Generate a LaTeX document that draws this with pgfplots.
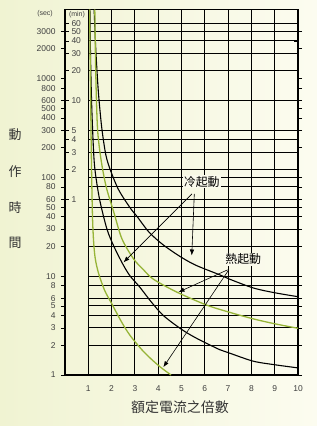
\documentclass[border=0pt]{standalone}
\usepackage{pgfplots}
\pgfplotsset{compat=1.18}
\usetikzlibrary{arrows.meta}
\usepackage{fontspec}
\setmainfont{Liberation Sans}
\newfontfamily\cjk{Noto Sans CJK TC}
\definecolor{curvegreen}{RGB}{150,180,55}
\definecolor{bgl}{RGB}{240,243,210}
\definecolor{bgr}{RGB}{252,252,240}
\definecolor{lblbg}{RGB}{250,250,236}
\begin{document}
\begin{tikzpicture}
\shade[left color=bgl, right color=bgr] (0bp,0bp) rectangle (317bp,426bp);
\begin{axis}[
  at={(65bp,51bp)}, anchor=south west,
  width=233bp, height=365.5bp, scale only axis,
  xmin=0, xmax=10, ymin=1, ymax=5000, ymode=log,
  /pgf/number format/assume math mode=true,
  axis line style={line width=1.1pt},
  clip=true,
  xtick={1,2,3,4,5,6,7,8,9,10},
  xticklabels={1,2,3,4,5,6,7,8,9,10},
  xmajorgrids, grid style={black, line width=1pt},
  xtick style={draw=none},
  xticklabel style={font=\fontsize{8.5}{9}\selectfont, yshift=-3bp, text=black!75},
  ytick={1,2,3,4,5,6,8,10,20,30,40,50,60,80,100,200,300,400,500,600,800,1000,2000,3000},
  yticklabels={1,2,3,4,5,6,8,10,20,30,40,50,60,80,100,200,300,400,500,600,800,1000,2000,3000},
  ytick style={black, line width=0.7pt},
  tick align=outside,
  major tick length=4bp,
  yticklabel style={font=\fontsize{8.5}{9}\selectfont, text=black!75, xshift=-2bp},
  extra y ticks={60,120,180,240,300,600,1200,1800,2400,3000,3600},
  extra y tick labels={1,2,3,4,5,10,20,30,40,50,60},
  extra y tick style={tick align=inside, major tick length=4bp,
     yticklabel style={anchor=west, xshift=5bp, font=\fontsize{8.5}{9}\selectfont, text=black!75}},
]
\pgfplotsinvokeforeach{2,3,4,5,6,8,10,20,30,40,50,60,80,100,120,180,240,300,600,1200,1800,2400,3000,3600}{
  \draw[black, line width=1pt] (axis cs:1,#1) -- (axis cs:10,#1);
}
% cold start (black), upper
\addplot[black, line width=1.1pt, smooth] coordinates {
(1.25,5000) (1.32,2000) (1.42,800) (1.50,480) (1.59,300) (1.75,170) (1.94,120)
(2.3,75) (2.8,49) (3.1,40) (3.6,28) (4.22,20.7) (5,15.5) (5.65,12.8) (6.65,10.3)
(7.08,9.3) (8.08,7.6) (9,6.8) (10,6.2)};
% cold start (black), lower
\addplot[black, line width=1.1pt, smooth] coordinates {
(1.07,5000) (1.10,1500) (1.15,500) (1.23,177) (1.30,112) (1.49,59) (1.8,30) (2.1,20)
(2.5,13) (2.8,10) (3.2,7.8) (3.7,5.5) (4.22,4.0) (5,2.9) (5.65,2.35) (6.65,1.8)
(7.08,1.66) (8.08,1.38) (9,1.27) (10,1.18)};
% hot start (green), upper
\addplot[curvegreen, line width=1.3pt, smooth] coordinates {
(1.28,5000) (1.31,1500) (1.35,600) (1.40,300) (1.50,180) (1.64,112) (1.8,75) (2.1,44)
(2.44,24) (2.94,15) (3.37,11.6) (3.8,9.3) (4.8,6.9) (6.08,5.1) (7.08,4.3) (8.08,3.7)
(9,3.3) (10,2.97)};
% hot start (green), lower
\addplot[curvegreen, line width=1.3pt, smooth] coordinates {
(1.06,5000) (1.08,1500) (1.11,400) (1.14,120) (1.18,40) (1.23,22) (1.30,15) (1.44,10.7)
(1.7,7.2) (2,5.3) (2.44,3.4) (2.8,2.5) (3.3,1.8) (3.7,1.45) (4.1,1.2) (4.55,1.0)};
% annotations
\node[fill=lblbg, inner sep=1pt, font=\cjk\fontsize{12}{12}\selectfont] at (axis cs:5.87,90) {冷起動};
\draw[-{Latex[length=6pt,width=4.5pt]}, line width=0.6pt] (axis cs:5.45,68) -- (axis cs:2.51,13.8);
\draw[-{Latex[length=6pt,width=4.5pt]}, line width=0.6pt] (axis cs:5.55,68) -- (axis cs:5.44,16.2);
\node[fill=lblbg, inner sep=1pt, font=\cjk\fontsize{12}{12}\selectfont] at (axis cs:7.65,14.8) {熱起動};
\draw[-{Latex[length=6pt,width=4.5pt]}, line width=0.6pt] (axis cs:6.98,11.6) -- (axis cs:4.87,6.9);
\draw[-{Latex[length=6pt,width=4.5pt]}, line width=0.6pt] (axis cs:7.03,11.6) -- (axis cs:4.22,1.2);
\end{axis}
\node[font=\fontsize{7}{8}\selectfont, text=black!75] at (45bp,412bp) {(sec)};
\node[font=\fontsize{7}{8}\selectfont, text=black!75] at (77bp,411bp) {(min)};
\node[font=\cjk\fontsize{13}{13}\selectfont, text=black!80] at (15bp,291bp) {動};
\node[font=\cjk\fontsize{13}{13}\selectfont, text=black!80] at (15bp,254bp) {作};
\node[font=\cjk\fontsize{13}{13}\selectfont, text=black!80] at (15bp,218bp) {時};
\node[font=\cjk\fontsize{13}{13}\selectfont, text=black!80] at (15bp,183bp) {間};
\node[font=\cjk\fontsize{14}{14}\selectfont, text=black!80] at (180bp,19bp) {額定電流之倍數};
\end{tikzpicture}
\end{document}
